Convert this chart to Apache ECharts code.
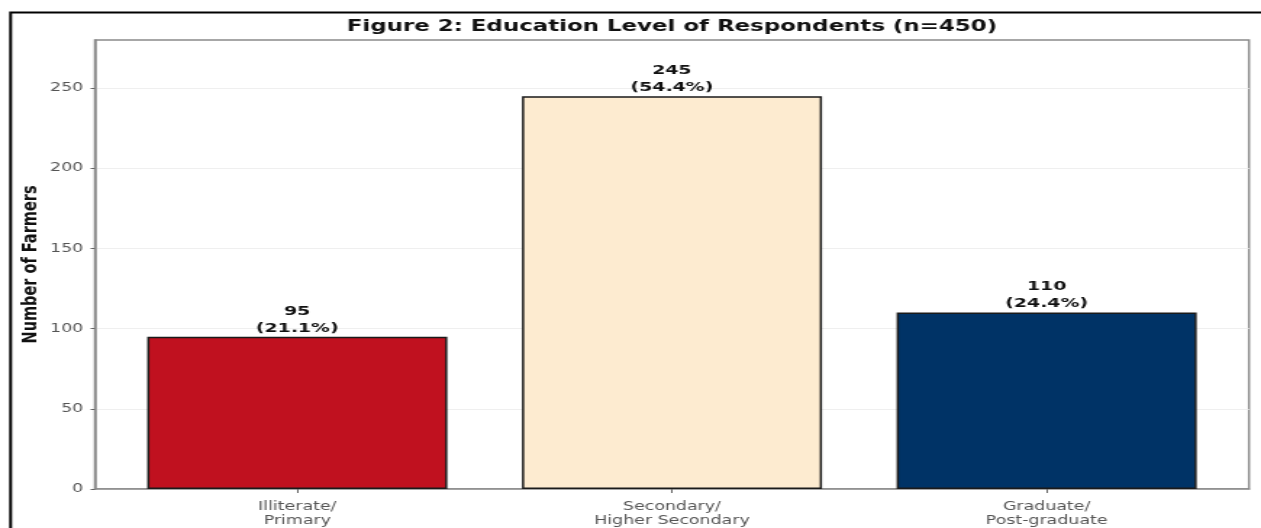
<!DOCTYPE html>
<html>
<head>
<meta charset="utf-8">
<script src="https://cdn.jsdelivr.net/npm/echarts@6/dist/echarts.min.js"></script>
<style>
  html, body { margin: 0; padding: 0; background: #fff; overflow: hidden; }
  #wrap { width: 1261px; height: 528px; overflow: hidden; }
  /* the figure is laid out narrow and widened horizontally */
  #chart { width: 870px; height: 528px; transform: scaleX(1.44943); transform-origin: 0 0; }
</style>
</head>
<body>
<div id="wrap"><div id="chart"></div></div>
<script>
// Education level of surveyed farmers
const categories = ['Illiterate/\nPrimary', 'Secondary/\nHigher Secondary', 'Graduate/\nPost-graduate'];
const counts = [95, 245, 110];
const percents = ['21.1%', '54.4%', '24.4%'];
const barColors = ['#C0111F', '#FDEBD0', '#003366'];
const yTicks = [0, 50, 100, 150, 200, 250];

const chart = echarts.init(document.getElementById('chart'));

const barData = counts.map((v, i) => ({
  value: [i, v],
  itemStyle: { color: barColors[i] }
}));

const gridLeft = 65.5, gridRight = 8.3;
const plotCenter = gridLeft + (870 - gridLeft - gridRight) / 2;

chart.setOption({
  backgroundColor: '#ffffff',
  animation: false,
  title: {
    text: 'Figure 2: Education Level of Respondents (n=450)',
    left: plotCenter,
    textAlign: 'center',
    top: 19,
    padding: 0,
    textStyle: {
      fontFamily: 'DejaVu Sans',
      fontWeight: 'bold',
      fontSize: 15.8,
      color: '#111'
    }
  },
  grid: {
    left: gridLeft,
    right: gridRight,
    top: 40,
    bottom: 39,
    show: true,
    borderColor: '#8a8a8a',
    borderWidth: 1.5,
    backgroundColor: 'transparent'
  },
  xAxis: {
    type: 'value',
    min: -0.54,
    max: 2.54,
    axisLine: { show: true, onZero: false, lineStyle: { color: '#8a8a8a', width: 1.5 } },
    splitLine: { show: false },
    axisTick: {
      show: true,
      customValues: [0, 1, 2],
      length: 4,
      lineStyle: { color: '#666' }
    },
    axisLabel: {
      customValues: [0, 1, 2],
      formatter: v => categories[Math.round(v)],
      fontFamily: 'DejaVu Sans',
      fontSize: 12,
      lineHeight: 14,
      color: '#555',
      margin: 11
    }
  },
  yAxis: {
    type: 'value',
    min: 0,
    max: 280,
    interval: 50,
    name: 'Number of Farmers',
    nameLocation: 'middle',
    nameGap: 37,
    nameMoveOverlap: false,
    nameRotate: 90,
    nameTextStyle: {
      fontFamily: 'DejaVu Sans',
      fontWeight: 'bold',
      fontSize: 14.5,
      color: '#111'
    },
    axisLine: { show: true, onZero: false, lineStyle: { color: '#8a8a8a', width: 1.5 } },
    axisTick: { show: true, customValues: yTicks, length: 3, lineStyle: { color: '#666' } },
    axisLabel: {
      customValues: yTicks,
      fontFamily: 'DejaVu Sans',
      fontSize: 12,
      color: '#555',
      margin: 8
    },
    splitLine: { show: true, lineStyle: { color: '#efefef', width: 1 } }
  },
  series: [{
    type: 'bar',
    data: barData,
    barWidth: 207,
    itemStyle: { borderColor: '#1a1a1a', borderWidth: 1.5 },
    label: {
      show: true,
      position: 'top',
      distance: 0,
      formatter: p => counts[p.dataIndex] + '\n(' + percents[p.dataIndex] + ')',
      fontFamily: 'DejaVu Sans',
      fontWeight: 'bold',
      fontSize: 13,
      lineHeight: 17,
      color: '#111'
    }
  }],
  graphic: [{
    type: 'rect',
    left: 4.8,
    top: 10,
    shape: { width: 1000, height: 600 },
    style: { fill: 'none', stroke: '#000', lineWidth: 2 },
    silent: true,
    z: 100
  }]
});
</script>
</body>
</html>
